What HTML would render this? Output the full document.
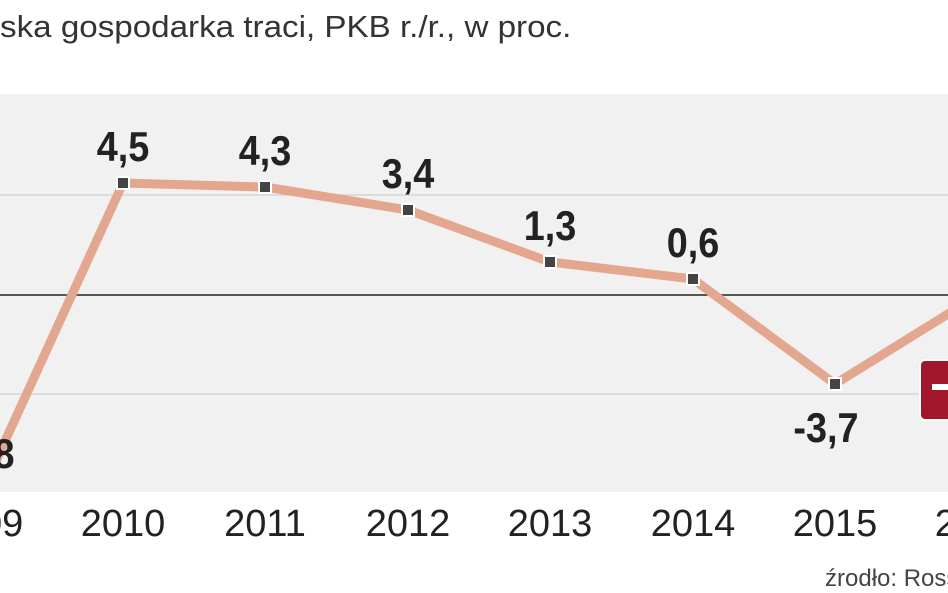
<!DOCTYPE html>
<html><head><meta charset="utf-8"><style>
body{margin:0;width:948px;height:593px;overflow:hidden;background:#fff}
svg{display:block}
</style></head><body>
<svg width="948" height="593" viewBox="0 0 948 593" xmlns="http://www.w3.org/2000/svg" font-family="Liberation Sans, sans-serif">
<text x="0" y="37" font-size="31" fill="#333" transform="scale(1.07,1)">ska gospodarka traci, PKB r./r., w proc.</text>
<rect x="0" y="94" width="948" height="398" fill="#f1f1f2"/>
<line x1="0" y1="195" x2="948" y2="195" stroke="#d6d6d8" stroke-width="1.5"/>
<line x1="0" y1="394" x2="948" y2="394" stroke="#d6d6d8" stroke-width="1.5"/>
<line x1="0" y1="295" x2="948" y2="295" stroke="#222" stroke-width="1.5"/>
<polyline points="-5,463 123,183 265,187 408,210 550,262 693,279 835,384 977,296" fill="none" stroke="#e3a68f" stroke-width="9" stroke-linejoin="round"/>
<g fill="#444" stroke="#fff" stroke-width="2">
<rect x="117" y="177" width="12" height="12"/><rect x="259" y="181" width="12" height="12"/>
<rect x="402" y="204" width="12" height="12"/><rect x="544" y="256" width="12" height="12"/>
<rect x="687" y="273" width="12" height="12"/><rect x="829" y="378" width="12" height="12"/>
</g>
<rect x="920" y="360" width="40" height="60" rx="5" fill="#a11628" stroke="#fff" stroke-width="2"/>
<rect x="932" y="384" width="16" height="6" fill="#fff"/>
<g font-size="42" font-weight="bold" fill="#222" text-anchor="middle">
<text x="123" y="161" transform="translate(12.3,0) scale(0.9,1)">4,5</text>
<text x="265" y="165" transform="translate(26.5,0) scale(0.9,1)">4,3</text>
<text x="408" y="188" transform="translate(40.8,0) scale(0.9,1)">3,4</text>
<text x="550" y="240" transform="translate(55,0) scale(0.9,1)">1,3</text>
<text x="693" y="257" transform="translate(69.3,0) scale(0.9,1)">0,6</text>
<text x="826" y="442" transform="translate(82.6,0) scale(0.9,1)">-3,7</text>
<text x="4" y="468" transform="translate(0.4,0) scale(0.9,1)">8</text>
</g>
<g font-size="38" fill="#222" text-anchor="middle">
<text x="-19" y="536">2009</text>
<text x="123" y="536">2010</text>
<text x="265" y="536">2011</text>
<text x="408" y="536">2012</text>
<text x="550" y="536">2013</text>
<text x="693" y="536">2014</text>
<text x="835" y="536">2015</text>
<text x="977" y="536">2016</text>
</g>
<text x="825" y="586" font-size="24" fill="#444">źrodło: Rosstat</text>
</svg>
</body></html>
